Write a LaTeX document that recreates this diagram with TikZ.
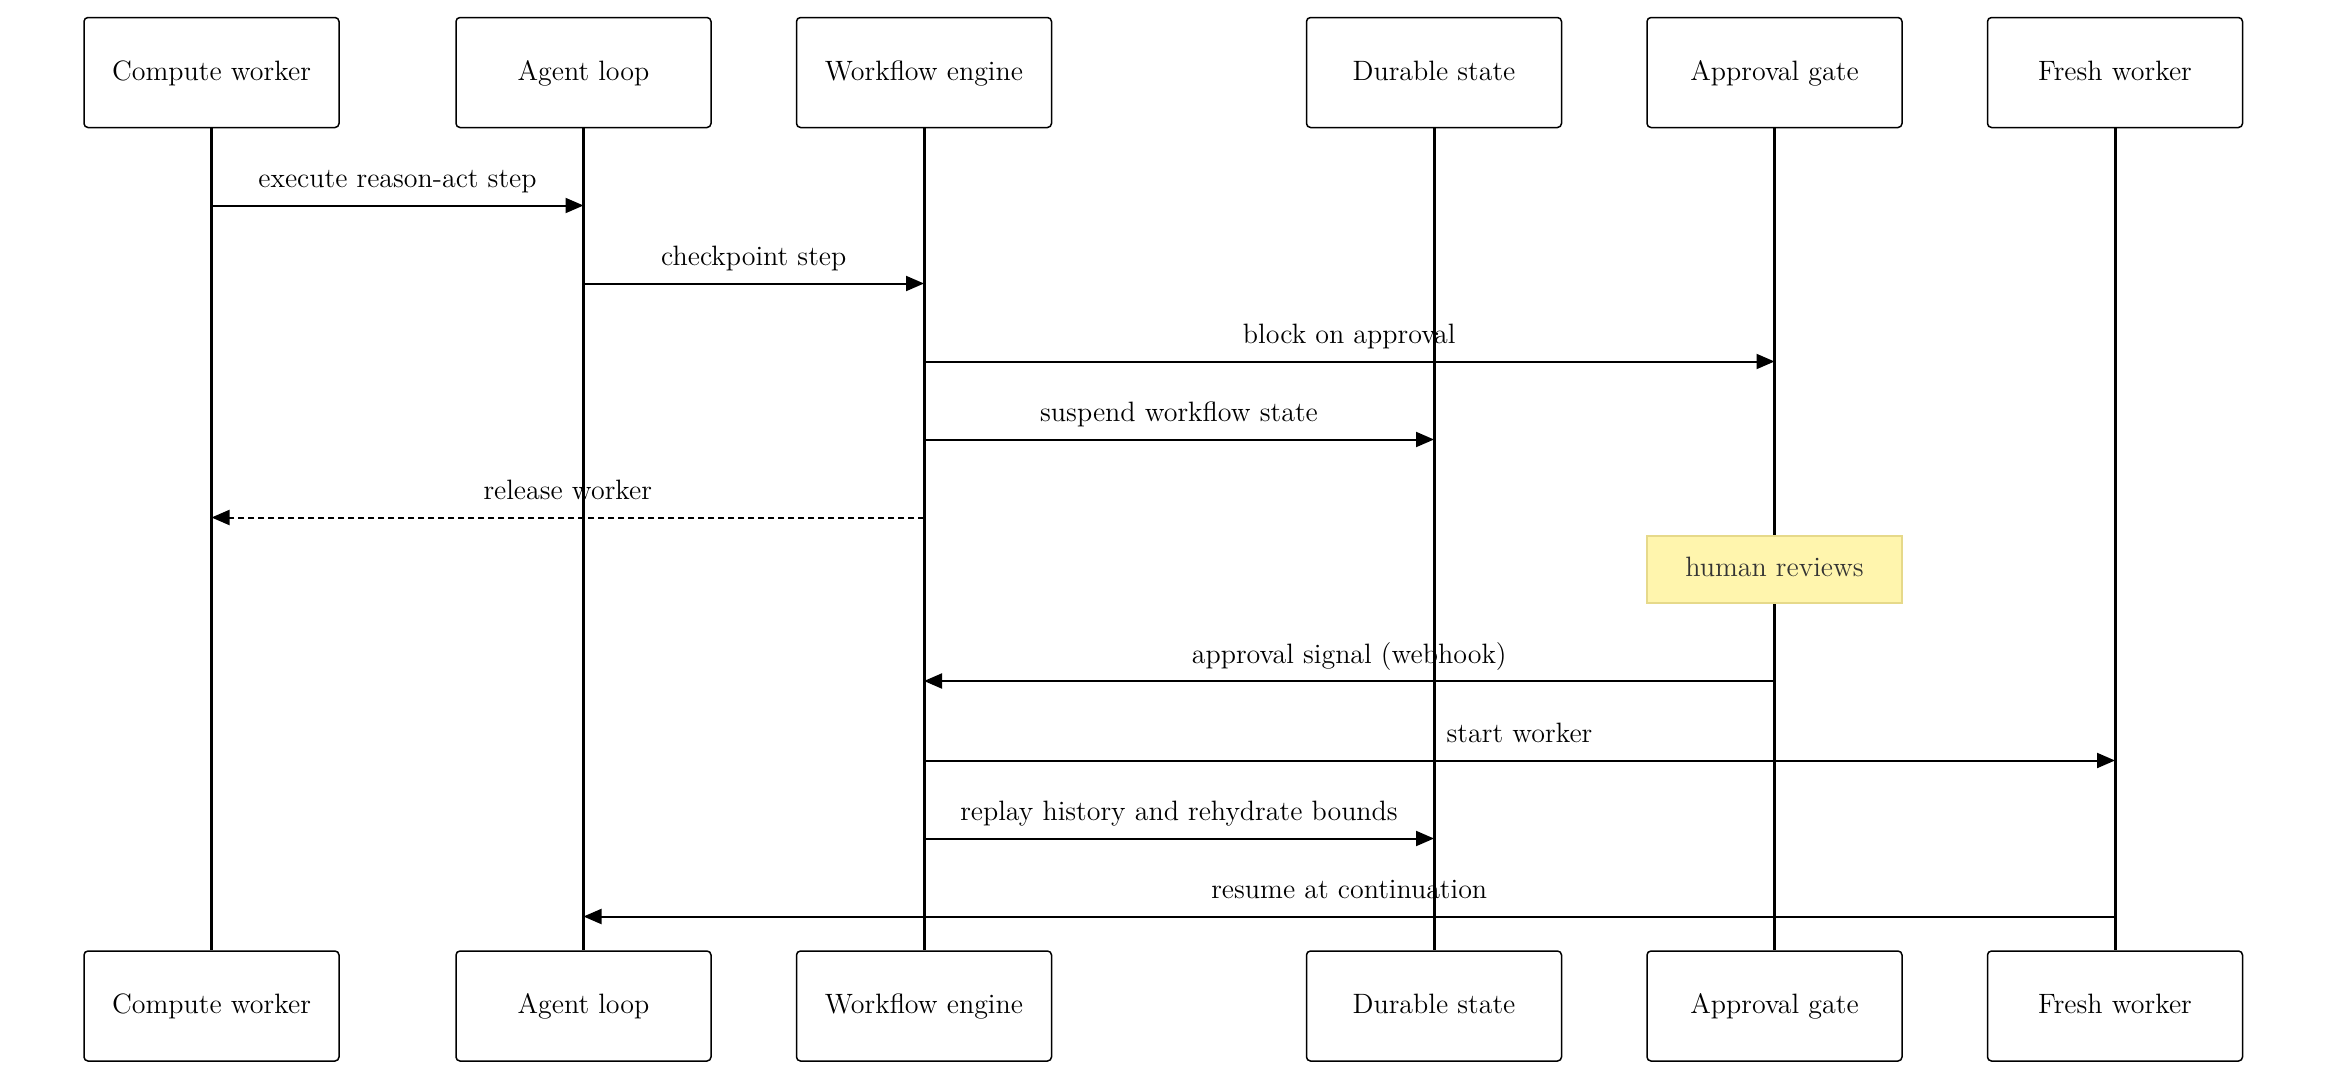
\documentclass[tikz,border=0pt]{standalone}
\usepackage{tikz}
\usetikzlibrary{arrows.meta, positioning}
\definecolor{noteyellow}{RGB}{255,245,173}
\definecolor{noteedge}{RGB}{230,217,138}
\definecolor{notetext}{RGB}{51,51,51}

\begin{document}
\begin{tikzpicture}[
    x=0.5pt, y=-0.5pt,
    font=\fontsize{14}{17}\selectfont,
    actor/.style={rectangle, rounded corners=2pt, draw, line width=0.75pt,
                  minimum width=127.5pt, minimum height=55pt, align=center, fill=white,
                  text height=0.75em, text depth=0em},
    note/.style={rectangle, draw=noteedge, fill=noteyellow, line width=0.75pt,
                 minimum width=127.5pt, minimum height=33.5pt, text=notetext,
                 text height=0.75em, text depth=0em},
    life/.style={line width=1.5pt},
    msg/.style={-{Triangle[length=9pt, width=7.5pt]}, line width=1pt},
    ret/.style={msg, dashed, dash pattern=on 3pt off 2pt},
    lbl/.style={midway, above=5pt, inner sep=1pt, text height=0.7em, text depth=0.25em}
]
\useasboundingbox (0,0) rectangle (2352,1092);

% Participants (top row)
\node[actor] (cw) at (211.5,72.5) {Compute worker};
\node[actor] (al) at (583.5,72.5) {Agent loop};
\node[actor] (we) at (924,72.5) {Workflow engine};
\node[actor] (ds) at (1434,72.5) {Durable state};
\node[actor] (ag) at (1774.5,72.5) {Approval gate};
\node[actor] (fw) at (2115,72.5) {Fresh worker};

% Participants (bottom row)
\node[actor] (cwB) at (211.5,1006) {Compute worker};
\node[actor] (alB) at (583.5,1006) {Agent loop};
\node[actor] (weB) at (924,1006) {Workflow engine};
\node[actor] (dsB) at (1434,1006) {Durable state};
\node[actor] (agB) at (1774.5,1006) {Approval gate};
\node[actor] (fwB) at (2115,1006) {Fresh worker};

% Lifelines
\draw[life] (cw.south) -- (cwB.north);
\draw[life] (al.south) -- (alB.north);
\draw[life] (we.south) -- (weB.north);
\draw[life] (ds.south) -- (dsB.north);
\draw[life] (ag.south) -- (agB.north);
\draw[life] (fw.south) -- (fwB.north);

% Message rows
\coordinate (m1) at (0,205.5);
\coordinate (m2) at (0,283.5);
\coordinate (m3) at (0,361.5);
\coordinate (m4) at (0,439.5);
\coordinate (m5) at (0,517.5);
\coordinate (m6) at (0,681);
\coordinate (m7) at (0,760.5);
\coordinate (m8) at (0,838.5);
\coordinate (m9) at (0,916.5);

% Messages
\draw[msg] (cw |- m1) -- (al |- m1) node[lbl] {execute reason-act step};
\draw[msg] (al |- m2) -- (we |- m2) node[lbl] {checkpoint step};
\draw[msg] (we |- m3) -- (ag |- m3) node[lbl] {block on approval};
\draw[msg] (we |- m4) -- (ds |- m4) node[lbl] {suspend workflow state};
\draw[ret] (we |- m5) -- (cw |- m5) node[lbl] {release worker};

% Note over approval gate
\node[note] (review) at (1774.5,569.25) {human reviews};

\draw[msg] (ag |- m6) -- (we |- m6) node[lbl] {approval signal (webhook)};
\draw[msg] (we |- m7) -- (fw |- m7) node[lbl] {start worker};
\draw[msg] (we |- m8) -- (ds |- m8) node[lbl] {replay history and rehydrate bounds};
\draw[msg] (fw |- m9) -- (al |- m9) node[lbl] {resume at continuation};
\end{tikzpicture}
\end{document}
